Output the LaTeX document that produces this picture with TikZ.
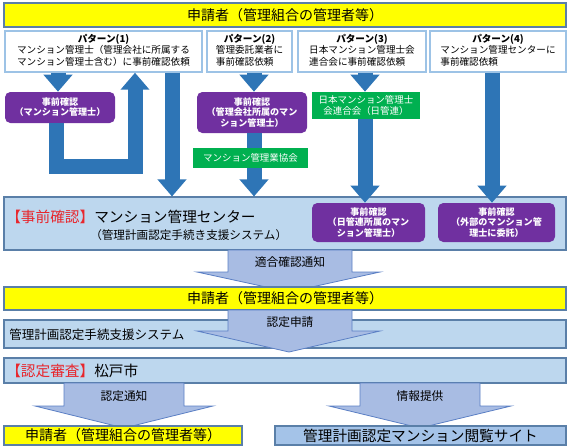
\documentclass[tikz,border=0pt]{standalone}
\usepackage{fontspec}
\setmainfont{Noto Sans CJK JP}
\usetikzlibrary{arrows.meta}
\definecolor{applyellow}{HTML}{FFFF00}
\definecolor{barline}{HTML}{5A7FA8}
\definecolor{syslight}{HTML}{BDD7EE}
\definecolor{sitefill}{HTML}{A4C3E8}
\definecolor{patline}{HTML}{9DC3E6}
\definecolor{chkpurple}{HTML}{7030A0}
\definecolor{assocgreen}{HTML}{00B050}
\definecolor{flowblue}{HTML}{2E75B6}
\definecolor{notefill}{HTML}{A8BCE3}
\definecolor{noteline}{HTML}{5B7FC4}
\definecolor{tagred}{HTML}{E8262C}
\begin{document}
\begin{tikzpicture}[x=0.75pt,y=0.75pt,yscale=-1,xscale=1,
  size/.style 2 args={minimum width=#1*0.75pt, minimum height=#2*0.75pt},
  bar/.style={draw=barline, line width=0.8pt, inner sep=0pt},
  applbar/.style={bar, fill=applyellow, font=\fontsize{10.5pt}{12pt}\selectfont},
  sysbar/.style={bar, fill=syslight},
  patbox/.style={draw=patline, line width=1.1pt, fill=white, inner sep=0pt, font=\fontsize{7.2pt}{8.6pt}\selectfont},
  chkbox/.style={fill=chkpurple, text=white, rounded corners=4pt, inner sep=0pt, align=center, font=\bfseries\fontsize{6.8pt}{7.6pt}\selectfont},
  assocbox/.style={fill=assocgreen, text=white, inner sep=0pt, align=center, font=\fontsize{7.1pt}{8pt}\selectfont},
  flow/.style={draw=flowblue, line width=11.25pt, -{Triangle[length=12.75pt,width=21pt]}},
  bigarrow/.style={fill=notefill, draw=noteline, line width=0.6pt},
  notelabel/.style={inner sep=0pt, font=\fontsize{8.8pt}{10pt}\selectfont},
]
\useasboundingbox (0,0) rectangle (571,447);

% applicant and the four patterns
\node[applbar, size={562}{24}] (app1) at (285,15) {申請者（管理組合の管理者等）};
\node[patbox, size={197}{41}] (p1) at (103.5,51.5) {\begin{tabular}{@{}l@{}}\multicolumn{1}{@{}c@{}}{\bfseries パターン(1)}\\マンション管理士（管理会社に所属する\\マンション管理士含む）に事前確認依頼\end{tabular}};
\node[patbox, size={85}{41}] (p2) at (249.5,51.5) {\begin{tabular}{@{}l@{}}\multicolumn{1}{@{}c@{}}{\bfseries パターン(2)}\\管理委託業者に\\事前確認依頼\end{tabular}};
\node[patbox, size={128}{41}] (p3) at (362,51.5) {\begin{tabular}{@{}l@{}}\multicolumn{1}{@{}c@{}}{\bfseries パターン(3)}\\日本マンション管理士会\\連合会に事前確認依頼\end{tabular}};
\node[patbox, size={136}{41}] (p4) at (498,51.5) {\begin{tabular}{@{}l@{}}\multicolumn{1}{@{}c@{}}{\bfseries パターン(4)}\\マンション管理センターに\\事前確認依頼\end{tabular}};

\node[chkbox, size={110}{31}] (chk1) at (60,107.5) {事前確認\\（マンション管理士）};
\node[chkbox, size={110}{41}] (chk2) at (252,112.5) {事前確認\\（管理会社所属のマン\\ション管理士）};
\node[assocbox, size={108}{27}] (grp3) at (366,105.5) {日本マンション管理士\\会連合会（日管連）};

% pre-check centre
\node[sysbar, size={562}{53}] (ctr) at (285,223.5) {};
\node[anchor=west, inner sep=0pt, font=\fontsize{11pt}{13pt}\selectfont] (ctrt1) at (6,217) {{\color{tagred}【事前確認】}マンション管理センター};
\node[anchor=west, inner sep=0pt, font=\fontsize{8.7pt}{10pt}\selectfont] (ctrt2) at (90,235) {（管理計画認定手続き支援システム）};
\node[chkbox, size={113}{39}] (chk3) at (368.5,222.5) {事前確認\\（日管連所属のマン\\ション管理士）};
\node[chkbox, size={117}{39}] (chk4) at (496.5,222.5) {事前確認\\（外部のマンション管\\理士に委託）};

% blue arrows
\coordinate (a1) at (58,0);
\coordinate (lp) at (56,166);
\coordinate (lq) at (135,166);
\coordinate (a2) at (172,0);
\coordinate (a3) at (254,0);
\coordinate (a4) at (365,0);
\coordinate (a5) at (492,0);
\draw[flow] (p1.south -| a1) -- (chk1.north -| a1);
\draw[flow] (chk1.south -| lp) -- (lp) -- (lq) -- (p1.south -| lq);
\draw[flow] (p1.south -| a2) -- (ctr.north -| a2);
\draw[flow] (p2.south -| a3) -- (chk2.north -| a3);
\draw[flow] (chk2.south -| a3) -- (ctr.north -| a3);
\draw[flow] (p3.south -| a4) -- (grp3.north -| a4);
\draw[flow] (grp3.south -| a4) -- (chk3.north -| a4);
\draw[flow] (p4.south -| a5) -- (chk4.north -| a5);
\node[assocbox, size={115}{20}] (grp2) at (250.5,158) {マンション管理業協会};

% notice and application
\draw[bigarrow] (228,250) -- (352,250) -- (352,272) -- (380,272) -- (289,292) -- (197,272) -- (228,272) -- cycle;
\node[notelabel] (ok) at (290,262) {適合確認通知};
\node[applbar, size={562}{23}] (app2) at (285,298.5) {申請者（管理組合の管理者等）};
\node[sysbar, size={562}{28}] (sys) at (285,334) {};
\node[anchor=west, inner sep=0pt, font=\fontsize{9.4pt}{11pt}\selectfont] (syst) at (9,335) {管理計画認定手続支援システム};
\draw[bigarrow] (228,310) -- (352,310) -- (352,331) -- (380,331) -- (289,352) -- (197,331) -- (228,331) -- cycle;
\node[notelabel] (req) at (290,322) {認定申請};

% certification
\node[sysbar, size={562}{25}] (city) at (285,370.5) {};
\node[anchor=west, inner sep=0pt, font=\fontsize{11pt}{13pt}\selectfont] (cityt) at (6,371) {{\color{tagred}【認定審査】}松戸市};
\draw[bigarrow] (64,383) -- (184,383) -- (184,406) -- (213,406) -- (124,428) -- (35,406) -- (64,406) -- cycle;
\node[notelabel] (cert) at (124,396) {認定通知};
\draw[bigarrow] (360,383) -- (480,383) -- (480,406) -- (511,406) -- (420,428) -- (329,406) -- (360,406) -- cycle;
\node[notelabel] (info) at (420,396) {情報提供};
\node[applbar, size={238}{19}] (app3) at (123,435.5) {申請者（管理組合の管理者等）};
\node[bar, fill=sitefill, font=\fontsize{11pt}{13pt}\selectfont, size={291}{19}] (site) at (420.5,435.5) {管理計画認定マンション閲覧サイト};
\end{tikzpicture}
\end{document}
